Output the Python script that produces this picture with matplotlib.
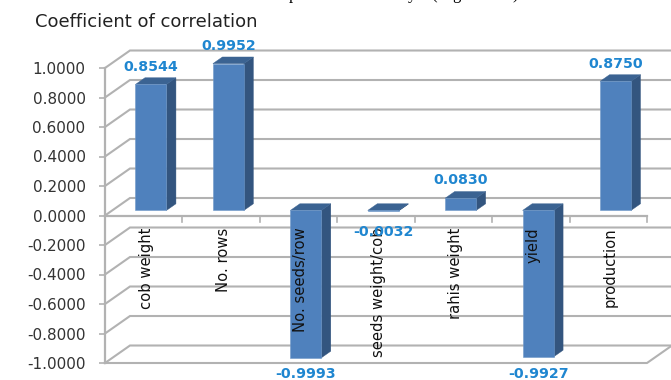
import matplotlib
matplotlib.use('Agg')
import matplotlib.pyplot as plt
from matplotlib.patches import Polygon

categories = ['cob weight', 'No. rows', 'No. seeds/row', 'seeds weight/cob',
              'rahis weight', 'yield', 'production']
values = [0.8544, 0.9952, -0.9993, -0.0032, 0.0830, -0.9927, 0.8750]
y_ticks = [1.0, 0.8, 0.6, 0.4, 0.2, 0.0, -0.2, -0.4, -0.6, -0.8, -1.0]

GRID = '#b2b2b2'
FRONT = '#4f81bd'
SIDE = '#33557f'
TOP = '#3b6392'
LABEL = '#1f86d0'
TEXT = '#333333'

# one unit of depth moves a point back along the floor of the 3d box
DEPTH_X = 0.3226
DEPTH_Y = 0.1186
BAR_W = 0.40
D0, D1 = 0.29, 0.67


def proj(x, v, d):
    return x + d * DEPTH_X, v + d * DEPTH_Y


plt.rcParams['font.family'] = ['DejaVu Sans']
fig = plt.figure(figsize=(6.71, 3.80), dpi=100)
ax = fig.add_axes([105 / 671, 17 / 380, 542 / 671, 295 / 380])
ax.set_xlim(0, 7)
ax.set_ylim(-1, 1)
ax.patch.set_visible(False)
for side in ['top', 'right', 'bottom']:
    ax.spines[side].set_visible(False)
ax.spines['left'].set_color(GRID)
ax.spines['left'].set_linewidth(1.6)

ax.set_yticks(y_ticks)
ax.set_yticklabels(['%.4f' % t for t in y_ticks], fontsize=11, color=TEXT)
ax.tick_params(axis='y', color=GRID, width=1.2, length=4, pad=10)
ax.set_xticks([])

# back wall gridlines and the diagonals on the left wall
for t in y_ticks:
    x0, y0 = proj(0, t, 0)
    x1, y1 = proj(0, t, 1)
    x2, y2 = proj(7, t, 1)
    ax.plot([x0, x1, x2], [y0, y1, y2], color=GRID, lw=1.5, clip_on=False, zorder=1,
            solid_joinstyle='miter')

# floor edge, zero plane edge and category ticks
x1, y1 = proj(7, -1, 1)
ax.plot([0, 7, x1], [-1, -1, y1], color=GRID, lw=1.5, clip_on=False, zorder=1)
ax.plot([0, 7], [0, 0], color=GRID, lw=1.6, clip_on=False, zorder=1)
for i in range(1, 8):
    ax.plot([i, i], [0, -0.045], color=GRID, lw=1.2, clip_on=False, zorder=1)

# bars drawn as three faces each
for i, v in enumerate(values):
    left = i + 0.5 - BAR_W / 2
    right = left + BAR_W
    fl = proj(left, 0, D0)
    fr = proj(right, 0, D0)
    tl = proj(left, v, D0)
    tr = proj(right, v, D0)
    br0 = proj(right, 0, D1)
    br1 = proj(right, v, D1)
    ax.add_patch(Polygon([fr, br0, br1, tr], fc=SIDE, ec=SIDE, lw=0.3, zorder=3, clip_on=False))
    high = v if v > 0 else 0
    ax.add_patch(Polygon([proj(left, high, D0), proj(right, high, D0),
                          proj(right, high, D1), proj(left, high, D1)],
                         fc=TOP, ec=TOP, lw=0.3, zorder=4, clip_on=False))
    ax.add_patch(Polygon([fl, fr, tr, tl], fc=FRONT, ec='#6f98c8', lw=0.4, zorder=5, clip_on=False))

    # value labels
    lx = i + 0.5 + (D0 + D1) / 2 * DEPTH_X - 0.06
    if v > 0:
        ax.annotate('%.4f' % v, (lx, v + D1 * DEPTH_Y), xytext=(0, 8), textcoords='offset points',
                    ha='center', va='center', fontsize=10.2, fontweight='bold', color=LABEL,
                    zorder=7, annotation_clip=False)
    else:
        extra = 15 if abs(v) < 0.5 else 12
        ax.annotate('%.4f' % v, (lx, v + D0 * DEPTH_Y), xytext=(0, -extra), textcoords='offset points',
                    ha='center', va='center', fontsize=10.2, fontweight='bold', color=LABEL,
                    zorder=7, annotation_clip=False)

# category names sit under the zero plane, reading upwards
for i, name in enumerate(categories):
    ax.text(i + 0.53, -0.08, name, rotation=90, ha='center', va='top', fontsize=10.6,
            color='#111111', zorder=6, clip_on=False)

fig.text(35 / 671, 1 - 22 / 380, 'Coefficient of correlation', fontsize=13, color='#222222',
         ha='left', va='center')

# bottoms of the caption line cut off by the top edge
for ch, px in [('p', 289), ('y', 408), ('(', 431), ('g', 452), (')', 512)]:
    fig.text(px / 671, 1.0 + 1 / 380, ch, family='Liberation Serif', fontsize=12, color='black',
             ha='left', va='baseline')

fig.savefig('out.png', dpi=100)
